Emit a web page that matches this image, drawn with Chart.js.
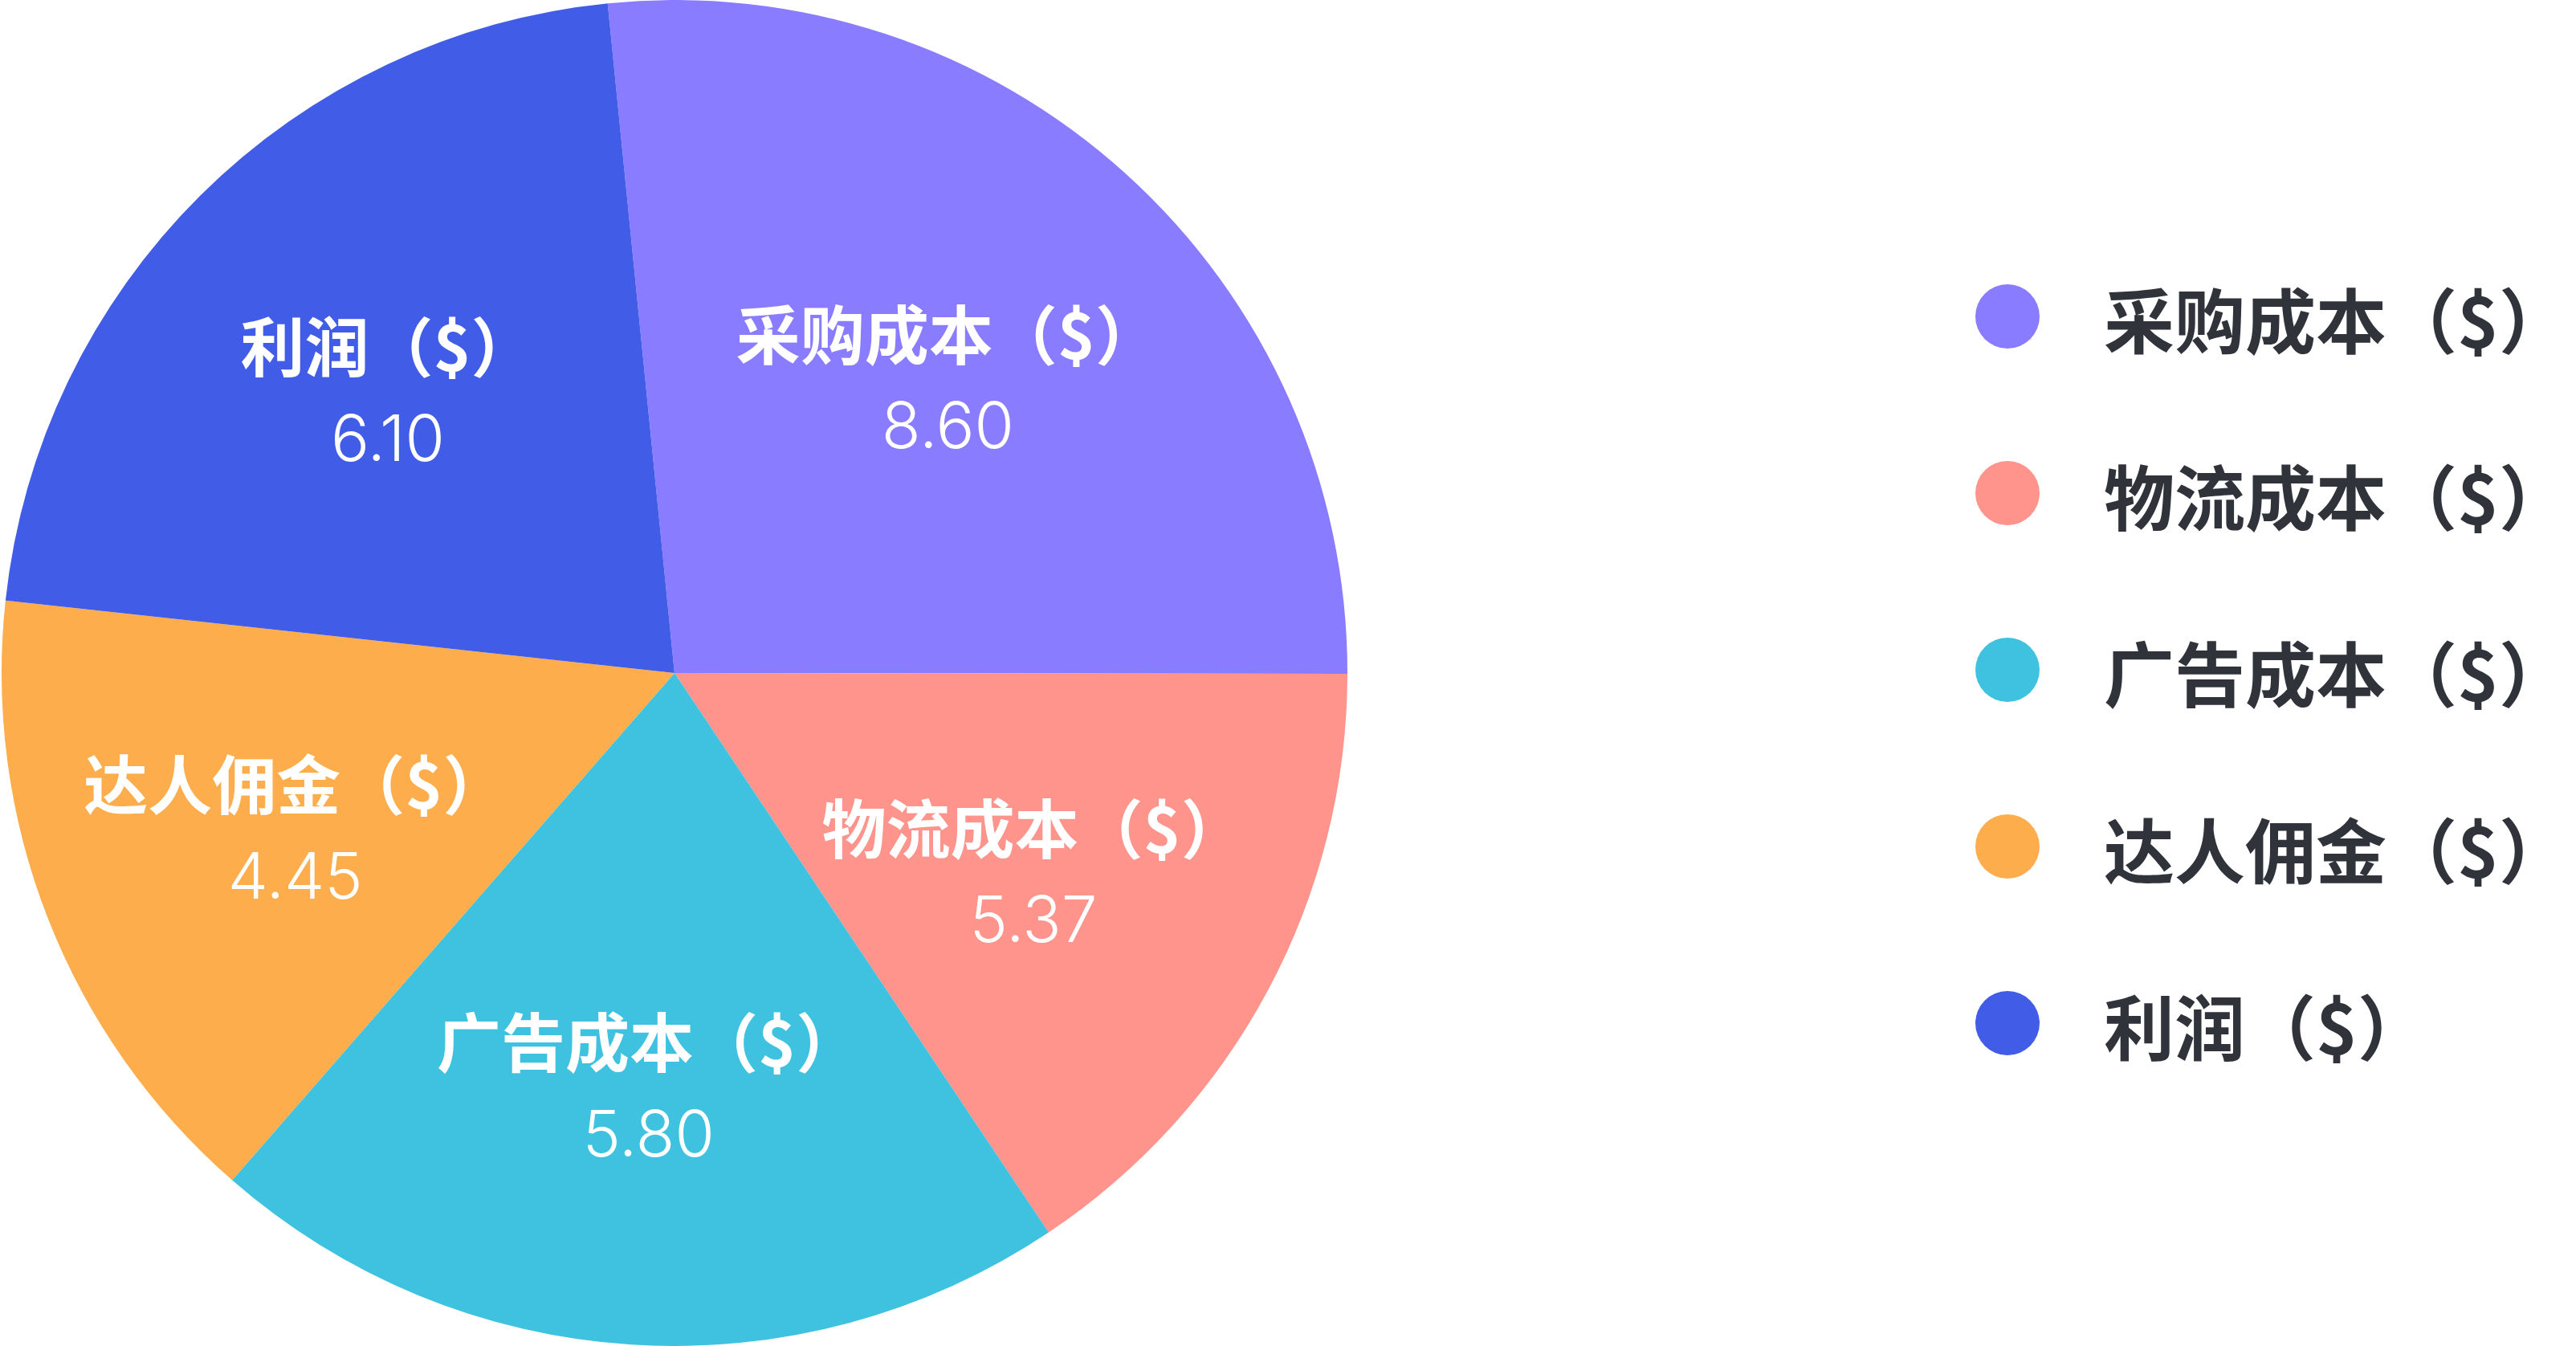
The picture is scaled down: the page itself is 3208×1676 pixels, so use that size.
<!DOCTYPE html>
<html>
<head>
<meta charset="utf-8">
<script src="https://cdn.jsdelivr.net/npm/chart.js@4.4.1/dist/chart.umd.min.js"></script>
<style>
    html, body { margin: 0; padding: 0; background: #fff; }
    #chartBox { position: absolute; left: 0; top: 0; width: 1680px; height: 1676px; }
    #legend { position: absolute; left: 2460px; top: 284px; margin: 0; padding: 0; list-style: none; }
    #legend li { height: 220px; display: flex; align-items: center; }
    #legend .dot { width: 80px; height: 80px; border-radius: 50%; margin-right: 80px; }
    #legend .txt { font: bold 88px "Noto Sans CJK SC", sans-serif; color: #30333a; white-space: nowrap; }
</style>
</head>
<body>
<div id="chartBox"><canvas id="pie"></canvas></div>
<ul id="legend"></ul>
<script>
// categories, in drawing order (clockwise from just left of 12 o'clock)
const categories = ["采购成本（$）", "物流成本（$）", "广告成本（$）", "达人佣金（$）", "利润（$）"];
// slice sizes (% of the circle)
const sliceShares = [26.6, 15.6, 20.8, 15.3, 21.7];
// values printed inside each slice
const valueLabels = [8.60, 5.37, 5.80, 4.45, 6.10];
const sliceColors = ["#8a7cff", "#ff948c", "#3ec2df", "#fdad4c", "#415de8"];

// draws name + value in the middle of every slice
const sliceLabels = {
    id: "sliceLabels",
    afterDatasetsDraw(chart) {
        const ctx = chart.ctx;
        const meta = chart.getDatasetMeta(0);
        ctx.save();
        ctx.fillStyle = "#fff";
        ctx.textAlign = "center";
        ctx.textBaseline = "middle";
        meta.data.forEach((arc, i) => {
            const p = arc.getProps(["x", "y", "startAngle", "endAngle", "outerRadius"], true);
            const mid = (p.startAngle + p.endAngle) / 2;
            const r = p.outerRadius * 0.605;
            const cx = p.x + Math.cos(mid) * r;
            const cy = p.y + Math.sin(mid) * r;
            ctx.font = 'bold 80px "Noto Sans CJK SC"';
            ctx.fillText(chart.data.labels[i], cx, cy - 46);
            ctx.font = "300 80px Inter";
            ctx.fillText(valueLabels[i].toFixed(2), cx, cy + 72);
        });
        ctx.restore();
    }
};

// legend as html list, built from the chart's own legend items
const htmlLegend = {
    id: "htmlLegend",
    afterUpdate(chart) {
        const ul = document.getElementById("legend");
        ul.innerHTML = "";
        const items = chart.options.plugins.legend.labels.generateLabels(chart);
        items.forEach((item) => {
            const li = document.createElement("li");
            const dot = document.createElement("span");
            dot.className = "dot";
            dot.style.background = item.fillStyle;
            const txt = document.createElement("span");
            txt.className = "txt";
            txt.textContent = item.text;
            li.appendChild(dot);
            li.appendChild(txt);
            ul.appendChild(li);
        });
    }
};

document.fonts.ready.then(() => {
    new Chart(document.getElementById("pie"), {
        type: "pie",
        data: {
            labels: categories,
            datasets: [{
                data: sliceShares,
                backgroundColor: sliceColors,
                borderWidth: 0,
                hoverOffset: 0
            }]
        },
        options: {
            responsive: true,
            maintainAspectRatio: false,
            animation: false,
            rotation: -5.7,
            layout: { padding: 0 },
            plugins: {
                legend: { display: false },
                tooltip: { enabled: false }
            }
        },
        plugins: [sliceLabels, htmlLegend]
    });
});
</script>
</body>
</html>
